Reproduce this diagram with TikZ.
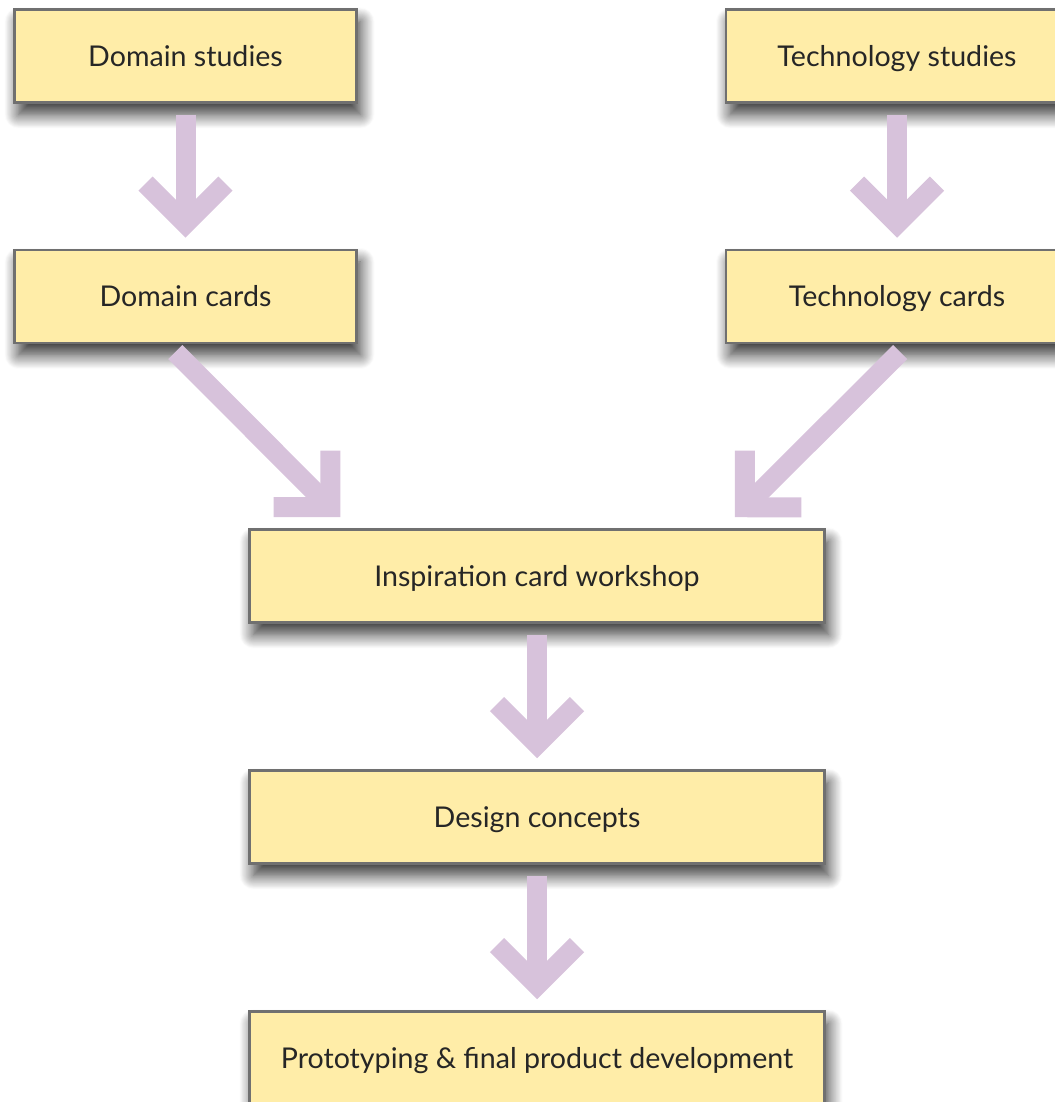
\documentclass[tikz,border=0pt]{standalone}
\usepackage{fontspec}
\setmainfont{Lato}
\usetikzlibrary{arrows.meta,shadows.blur}
\definecolor{card-yellow}{RGB}{255,237,168}
\definecolor{card-border}{RGB}{112,112,112}
\definecolor{flow-lilac}{RGB}{215,194,219}
\tikzset{
    stage-box/.style = {draw=card-border, fill=card-yellow, line width=2.5pt, rectangle, minimum width=342pt, minimum height=93pt, inner sep=0pt, text height=20.5pt, text depth=0pt, font=\fontsize{28.6}{34}\selectfont, text=black!85,
        blur shadow={shadow xshift=4pt, shadow yshift=-12pt, shadow blur radius=14pt, shadow blur steps=16, shadow opacity=80}},
    wide-box/.style = {stage-box, minimum width=575pt},
    flow-arrow/.style = {draw=flow-lilac, line width=20pt, -{Straight Barb[length=40pt, width=80pt]}, shorten <=11pt, shorten >=11pt},
}

\begin{document}
\begin{tikzpicture}[x=1pt, y=1pt]
\useasboundingbox (0,0) rectangle (1054,1102);
\node[stage-box] (domain-studies) at (185.5,1046) {Domain studies};
\node[stage-box] (tech-studies) at (897,1046) {Technology studies};
\node[stage-box] (domain-cards) at (185.5,805.5) {Domain cards};
\node[stage-box] (tech-cards) at (897,805.5) {Technology cards};
\node[wide-box] (workshop) at (537,526) {Inspiration card workshop};
\node[wide-box] (concepts) at (537,285) {Design concepts};
\node[wide-box] (prototyping) at (537,44) {Prototyping \& final product development};

% straight steps
\draw[flow-arrow] (domain-studies) -- (domain-cards);
\draw[flow-arrow] (tech-studies) -- (tech-cards);
\draw[flow-arrow] (workshop) -- (concepts);
\draw[flow-arrow] (concepts) -- (prototyping);
% both card sets feed the workshop at 45 degrees
\draw[flow-arrow, shorten >=0pt] ([xshift=-18pt]domain-cards.south) -- ([xshift=92pt, yshift=11pt]workshop.north west);
\draw[flow-arrow, shorten >=0pt] ([xshift=11pt]tech-cards.south) -- ([xshift=-91pt, yshift=11pt]workshop.north east);
\end{tikzpicture}
\end{document}
